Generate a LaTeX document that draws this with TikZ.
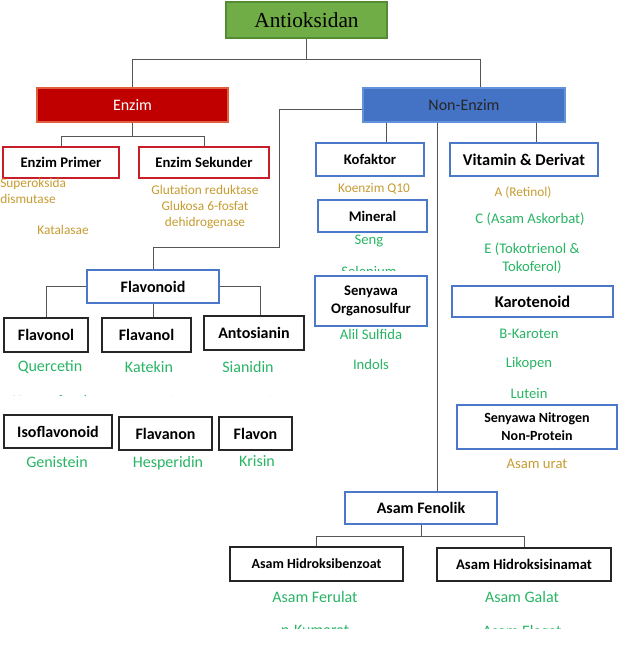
\documentclass[tikz,border=0pt]{standalone}
\usepackage{fontspec}
\setmainfont{Carlito}
\newfontfamily\serifrm{Liberation Serif}
\usepackage{tikz}
\definecolor{antigreen}{RGB}{112,173,71}
\definecolor{antigreenline}{RGB}{84,140,52}
\definecolor{enzred}{RGB}{192,0,0}
\definecolor{enzredline}{RGB}{225,95,60}
\definecolor{nonblue}{RGB}{68,114,196}
\definecolor{nonblueline}{RGB}{100,145,220}
\definecolor{boxblue}{RGB}{75,120,200}
\definecolor{boxred}{RGB}{200,30,40}
\definecolor{itemgold}{RGB}{198,156,50}
\definecolor{itemgreen}{RGB}{40,180,100}
\definecolor{linkgray}{RGB}{85,85,85}
\def\pxu{0.75pt}
\tikzstyle{root} = [rectangle, inner sep=0pt, fill=antigreen, draw=antigreenline, line width=0.8pt, font=\serifrm\fontsize{16}{18}\selectfont]
\tikzstyle{headred} = [rectangle, inner sep=0pt, fill=enzred, draw=enzredline, line width=0.8pt, text=white, font=\fontsize{12}{14}\selectfont]
\tikzstyle{headblue} = [rectangle, inner sep=0pt, fill=nonblue, draw=nonblueline, line width=0.8pt, text=black!85, font=\fontsize{12}{14}\selectfont]
\tikzstyle{redbox} = [rectangle, inner sep=0pt, draw=boxred, line width=1pt, font=\bfseries\fontsize{11}{13}\selectfont]
\tikzstyle{bluebox} = [rectangle, inner sep=0pt, draw=boxblue, line width=1pt, align=center, font=\bfseries\fontsize{11}{13.5}\selectfont]
\tikzstyle{blackbox} = [rectangle, inner sep=0pt, draw=black!85, line width=1.3pt, font=\bfseries\fontsize{12}{14}\selectfont]
\tikzstyle{golditem} = [inner sep=0pt, text=itemgold, align=center, font=\fontsize{10}{12}\selectfont]
\tikzstyle{greenitem} = [inner sep=0pt, text=itemgreen, align=center, font=\fontsize{11}{13.5}\selectfont]
\tikzstyle{link} = [draw=linkgray, line width=0.6pt]

\begin{document}
\begin{tikzpicture}[x=0.75pt, y=-0.75pt]
\useasboundingbox (0,0) rectangle (620,650);
\node[root, minimum width=161*\pxu, minimum height=36*\pxu] (anti) at (306.5,20) {Antioksidan};
\node[headred, minimum width=191*\pxu, minimum height=34*\pxu] (enzim) at (132.5,105) {Enzim};
\node[headblue, minimum width=202*\pxu, minimum height=34*\pxu] (nonenzim) at (464,105) {Non-Enzim};
\draw[link] (anti.south) -- (306.5,59) -| (enzim.north);
\draw[link] (306.5,59) -| (nonenzim.north -| 480,0);

\node[redbox, minimum width=116*\pxu, minimum height=31*\pxu] (primer) at (61,162.5) {Enzim Primer};
\node[redbox, minimum width=130*\pxu, minimum height=31*\pxu] (sekunder) at (204,162.5) {Enzim Sekunder};
\draw[link] (enzim.south) -- (132.5,136) -| (primer.north);
\draw[link] (132.5,136) -| (sekunder.north);
\node[golditem, align=left, anchor=north west] (superoksida) at (0,178) {Superoksida\\dismutase};
\node[golditem] (katalasae) at (63,230) {Katalasae};
\node[golditem, font=\fontsize{10}{12}\selectfont] (glutation) at (205,207) {Glutation reduktase\\Glukosa 6-fosfat\\dehidrogenase};

\node[bluebox, font=\bfseries\fontsize{12}{14}\selectfont, minimum width=132*\pxu, minimum height=33*\pxu] (flavonoid) at (153,286.5) {Flavonoid};
\draw[link] (nonenzim.west |- 0,109) -| (279,247) -| (flavonoid.north);
\node[blackbox, minimum width=84*\pxu, minimum height=34*\pxu] (flavonol) at (46,335) {Flavonol};
\node[blackbox, minimum width=89*\pxu, minimum height=34*\pxu] (flavanol) at (146.5,335) {Flavanol};
\node[blackbox, minimum width=100*\pxu, minimum height=34*\pxu] (antosianin) at (254,333) {Antosianin};
\draw[link] (flavonoid.west) -| (flavonol.north);
\draw[link] (flavonoid.south) -- (flavonoid.south |- flavanol.north);
\draw[link] (flavonoid.east) -| (antosianin.north -| 260,0);
\node[greenitem, font=\fontsize{12}{14}\selectfont] (quercetin) at (50,367) {Quercetin};
\node[greenitem, font=\fontsize{12}{14}\selectfont] (katekin) at (149,367) {Katekin};
\node[greenitem, font=\fontsize{12}{14}\selectfont] (sianidin) at (248,367) {Sianidin};
\begin{scope}
\clip (0,380) rectangle (310,395);
\node[greenitem, font=\fontsize{12}{14}\selectfont] (kaempferol) at (50,402) {Kaempferol};
\node[greenitem, font=\fontsize{12}{14}\selectfont] (prosianidin) at (149,402) {Prosianidin};
\node[greenitem, font=\fontsize{12}{14}\selectfont] (prosianidinb) at (248,402) {Prosianidin};
\end{scope}

\node[blackbox, minimum width=108*\pxu, minimum height=33*\pxu] (isoflavonoid) at (58,431.5) {Isoflavonoid};
\node[blackbox, minimum width=93*\pxu, minimum height=33*\pxu] (flavanon) at (165.5,433.5) {Flavanon};
\node[blackbox, minimum width=73*\pxu, minimum height=33*\pxu] (flavon) at (255.5,433.5) {Flavon};
\node[greenitem, font=\fontsize{12}{14}\selectfont] (genistein) at (57,462) {Genistein};
\node[greenitem, font=\fontsize{12}{14}\selectfont] (hesperidin) at (168,463) {Hesperidin};
\node[greenitem, font=\fontsize{12}{14}\selectfont] (krisin) at (257,461) {Krisin};

\node[bluebox, minimum width=108*\pxu, minimum height=33*\pxu] (kofaktor) at (370,159.5) {Kofaktor};
\node[bluebox, font=\bfseries\fontsize{12.3}{14}\selectfont, minimum width=148*\pxu, minimum height=33*\pxu] (vitamin) at (524,159.5) {Vitamin \& Derivat};
\draw[link] (nonenzim.south -| 386,0) -- (kofaktor.north -| 386,0);
\draw[link] (nonenzim.south -| 536,0) -- (vitamin.north -| 536,0);
\node[golditem] (koenzim) at (374,189) {Koenzim Q10};
\node[bluebox, minimum width=109*\pxu, minimum height=32*\pxu] (mineral) at (372.5,216) {Mineral};
\node[greenitem] (seng) at (369,241) {Seng};
\begin{scope}
\clip (310,255) rectangle (440,270);
\node[greenitem] (selenium) at (369,271) {Selenium};
\end{scope}
\node[bluebox, minimum width=112*\pxu, minimum height=50*\pxu] (organosulfur) at (371,301) {Senyawa\\Organosulfur};
\node[greenitem] (alil) at (371,334) {Alil Sulfida};
\node[greenitem] (indols) at (371,364) {Indols};

\node[golditem] (retinol) at (523,193) {A (Retinol)};
\node[greenitem] (askorbat) at (530,219) {C (Asam Askorbat)};
\node[greenitem, font=\fontsize{11}{13.5}\selectfont] (tokoferol) at (532,258) {E (Tokotrienol \&\\Tokoferol)};
\node[bluebox, font=\bfseries\fontsize{12.3}{14}\selectfont, minimum width=161*\pxu, minimum height=31*\pxu] (karotenoid) at (532.5,301.5) {Karotenoid};
\node[greenitem] (bkaroten) at (529,334) {B-Karoten};
\node[greenitem] (likopen) at (529,364) {Likopen};
\node[greenitem] (lutein) at (529,394) {Lutein};
\node[bluebox, font=\bfseries\fontsize{10.5}{13.5}\selectfont, minimum width=160*\pxu, minimum height=44*\pxu] (nitrogen) at (537,427) {Senyawa Nitrogen\\Non-Protein};
\node[golditem, font=\fontsize{11}{13}\selectfont] (asamurat) at (537,464) {Asam urat};

\node[bluebox, font=\bfseries\fontsize{12}{14}\selectfont, minimum width=152*\pxu, minimum height=32*\pxu] (fenolik) at (421,508) {Asam Fenolik};
\draw[link] (nonenzim.south -| 437,0) -- (fenolik.north -| 437,0);
\node[blackbox, font=\bfseries\fontsize{10.5}{13}\selectfont, minimum width=173*\pxu, minimum height=34*\pxu] (benzoat) at (316.5,564) {Asam Hidroksibenzoat};
\node[blackbox, font=\bfseries\fontsize{11}{13}\selectfont, minimum width=174*\pxu, minimum height=33*\pxu] (sinamat) at (524,564.5) {Asam Hidroksisinamat};
\draw[link] (fenolik.south) -- (fenolik.south |- 0,536) -| (benzoat.north);
\draw[link] (fenolik.south |- 0,536) -| (sinamat.north);
\node[greenitem, font=\fontsize{12}{14}\selectfont] (ferulat) at (315,597) {Asam Ferulat};
\node[greenitem, font=\fontsize{12}{14}\selectfont] (galat) at (522,597) {Asam Galat};
\begin{scope}
\clip (220,610) rectangle (620,628);
\node[greenitem, font=\fontsize{12}{14}\selectfont] (kumarat) at (315,632) {p-Kumarat};
\node[greenitem, font=\fontsize{12}{14}\selectfont] (elagat) at (522,632) {Asam Elagat};
\end{scope}
\end{tikzpicture}
\end{document}
